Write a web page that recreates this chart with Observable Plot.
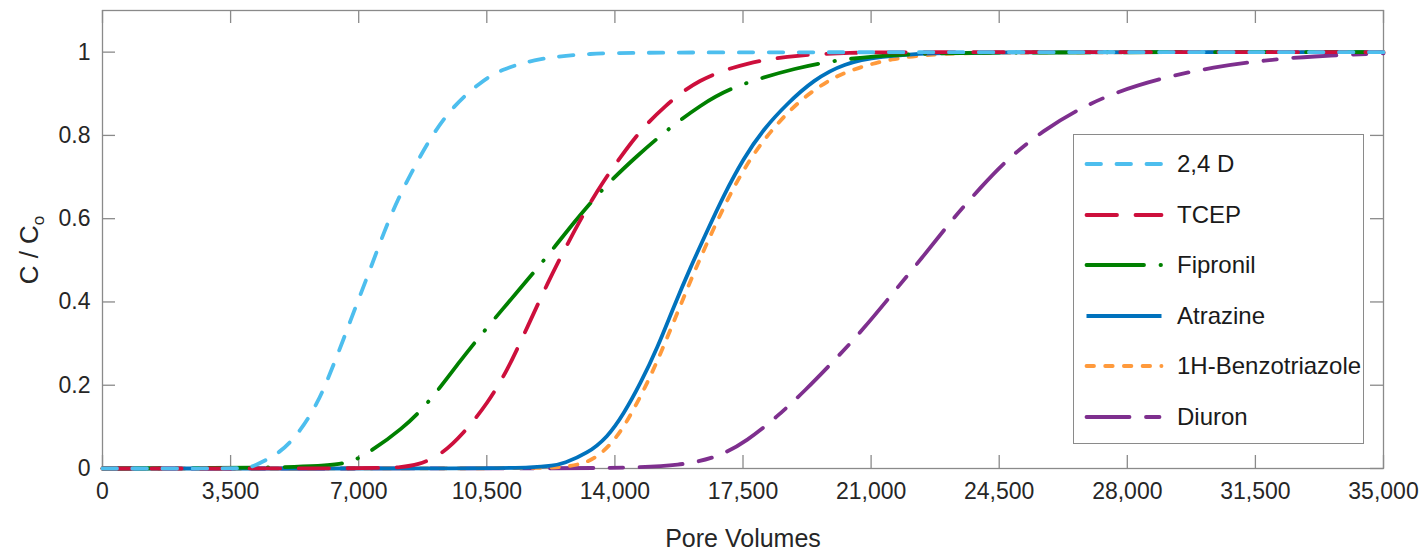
<!DOCTYPE html>
<html>
<head>
<meta charset="utf-8">
<script src="https://cdn.jsdelivr.net/npm/d3@7"></script>
<script src="https://cdn.jsdelivr.net/npm/@observablehq/plot@0.6"></script>
<style>
  body { margin: 0; background: #fff; font-family: "Liberation Sans", Arial, Helvetica, sans-serif; }
  #wrap { position: relative; width: 1421px; height: 552px; overflow: hidden; }
  #legend { position: absolute; left: 1073px; top: 134px; width: 291px; height: 310px;
            border: 1.5px solid #8a8a8a; background: #fff; box-sizing: border-box; }
  .item { position: absolute; left: 0; height: 30px; display: flex; align-items: center; }
  .item svg { margin-left: 9px; display: block; }
  .item span { margin-left: 13px; font-size: 24px; color: #1a1a1a; white-space: nowrap; }
</style>
</head>
<body>
<div id="wrap"></div>
<script>
// ---- Data ----
const xTicks = [0, 3500, 7000, 10500, 14000, 17500, 21000, 24500, 28000, 31500, 35000];
const yTicks = [0, 0.2, 0.4, 0.6, 0.8, 1];

const seriesNames  = ["2,4 D", "TCEP", "Fipronil", "Atrazine", "1H-Benzotriazole", "Diuron"];
const seriesColors = ["#4DBEEE", "#CD0F3C", "#008000", "#0072BD", "#FF9A3C", "#7E2F8E"];
const seriesDashes = ["14.5,15.5", "30.5,18.5", "57.5,16.5,0.5,16.5", null, "7.5,11.2", "43,16.5,13.5,16.5"];

// [pore volumes, C/Co]
const d24D = [[0,0],[3900,0],[4043,0.002],[4863,0.036],[5409,0.09],[5874,0.156],[6229,0.23],[6584,0.31],
  [6967,0.40],[7322,0.48],[7677,0.565],[8059,0.645],[8496,0.72],[8961,0.795],[9589,0.872],[10327,0.928],
  [10873,0.958],[11884,0.985],[13250,0.997],[15053,1.0],[35000,1.0]];
const tcep = [[0,0],[7595,0],[8141,0.003],[8606,0.008],[9234,0.031],[9863,0.084],[10518,0.156],[11065,0.236],
  [11611,0.34],[12157,0.445],[12704,0.54],[13250,0.628],[13687,0.69],[14152,0.748],[14698,0.812],
  [15327,0.868],[16255,0.935],[17621,0.976],[18987,0.993],[20435,0.999],[21800,1.0],[35000,1.0]];
const fipronil = [[0,0],[5409,0.002],[6584,0.01],[7049,0.024],[8223,0.096],[8961,0.163],[9781,0.26],
  [10518,0.34],[11420,0.433],[12157,0.51],[12868,0.59],[13687,0.675],[14616,0.752],[15518,0.82],
  [16337,0.872],[17157,0.916],[18987,0.964],[20353,0.985],[21800,0.995],[24000,1.0],[35000,1.0]];
const atrazine = [[0,0],[10873,0],[11693,0.002],[12321,0.007],[12594,0.012],[13250,0.036],[13797,0.075],
  [14234,0.13],[14698,0.204],[15163,0.29],[15600,0.387],[16064,0.483],[16529,0.572],[16966,0.655],
  [17512,0.745],[18058,0.815],[18714,0.877],[19425,0.933],[20244,0.973],[21255,0.99],[22621,0.998],
  [24500,1.0],[35000,1.0]];
const benzotriazole = [[0,0],[11693,0],[12594,0.003],[13059,0.01],[13523,0.026],[14070,0.075],[14507,0.14],
  [14971,0.22],[15436,0.315],[15873,0.41],[16337,0.507],[16802,0.596],[17239,0.675],[17785,0.757],
  [18441,0.83],[19151,0.892],[19889,0.935],[20435,0.957],[21528,0.985],[22894,0.997],[25000,1.0],[35000,1.0]];
const diuron = [[0,0],[12500,0],[14426,0.002],[15765,0.007],[16803,0.026],[17623,0.067],[18415,0.123],
  [19207,0.188],[20000,0.26],[20792,0.335],[21584,0.42],[22404,0.507],[23196,0.596],[23989,0.675],
  [24781,0.748],[25710,0.812],[26639,0.862],[27705,0.905],[29030,0.94],[30355,0.964],[31694,0.98],
  [33005,0.99],[35000,0.997]];

const seriesData = [d24D, tcep, fipronil, atrazine, benzotriazole, diuron];

// ---- Chart ----
const W = 1421, H = 552, mL = 102, mR = 38, mT = 10, mB = 84;
const plotW = W - mL - mR, plotH = H - mT - mB, tickLen = 13;
const axisGray = "#8a8a8a";

// draw order reversed so 2,4 D ends on top
const lineMarks = seriesData.map((pts, i) => Plot.line(pts, {
  x: d => d[0], y: d => d[1],
  stroke: seriesColors[i], strokeWidth: 3.8,
  strokeDasharray: seriesDashes[i] || undefined,
  strokeLinecap: seriesDashes[i] ? "round" : "butt",
  curve: "basis"
})).reverse();

const chart = Plot.plot({
  width: W, height: H,
  marginLeft: mL, marginRight: mR, marginTop: mT, marginBottom: mB,
  style: { fontFamily: "'Liberation Sans', Arial, Helvetica, sans-serif", fontSize: "23px", color: "#262626", background: "#fff", overflow: "visible" },
  x: { domain: [0, 35000] },
  y: { domain: [0, 1.1] },
  marks: [
    Plot.frame({ stroke: axisGray, strokeWidth: 1.3 }),
    Plot.tickX(xTicks, { x: d => d, stroke: axisGray, strokeWidth: 1.3, insetTop: plotH - tickLen }),
    Plot.tickX(xTicks, { x: d => d, stroke: axisGray, strokeWidth: 1.3, insetBottom: plotH - tickLen }),
    Plot.tickY(yTicks, { y: d => d, stroke: axisGray, strokeWidth: 1.3, insetRight: plotW - tickLen }),
    Plot.tickY(yTicks, { y: d => d, stroke: axisGray, strokeWidth: 1.3, insetLeft: plotW - tickLen }),
    ...lineMarks,
    Plot.axisX(xTicks, { tickSize: 0, tickPadding: 14, tickFormat: d3.format(","), label: null, fill: "#262626" }),
    Plot.axisY(yTicks, { tickSize: 0, tickPadding: 12, tickFormat: d => d3.format("~g")(d), label: null, fill: "#262626" }),
    Plot.text(["Pore Volumes"], { frameAnchor: "bottom", dy: 78, fontSize: 25, fill: "#262626" })
  ]
});

// y-axis title with subscript
const svg = d3.select(chart);
const yl = svg.append("text")
  .attr("transform", "translate(38,250) rotate(-90)")
  .attr("text-anchor", "middle")
  .attr("font-size", 26)
  .attr("fill", "#262626");
yl.append("tspan").text("C / C");
yl.append("tspan").attr("dy", 6).attr("font-size", 17).text("o");

const wrap = document.getElementById("wrap");
wrap.appendChild(chart);

// legend overlay
const legend = document.createElement("div");
legend.id = "legend";
seriesNames.forEach((name, i) => {
  const item = document.createElement("div");
  item.className = "item";
  item.style.top = (14 + i * 50.6) + "px";
  const sw = d3.create("svg").attr("width", 81).attr("height", 12);
  sw.append("line").attr("x1", 3.5).attr("x2", 78.5).attr("y1", 6).attr("y2", 6)
    .attr("stroke", seriesColors[i]).attr("stroke-width", 3.8)
    .attr("stroke-linecap", seriesDashes[i] ? "round" : "butt")
    .attr("stroke-dasharray", seriesDashes[i] || null);
  item.appendChild(sw.node());
  const label = document.createElement("span");
  label.textContent = name;
  item.appendChild(label);
  legend.appendChild(item);
});
wrap.appendChild(legend);
</script>
</body>
</html>
